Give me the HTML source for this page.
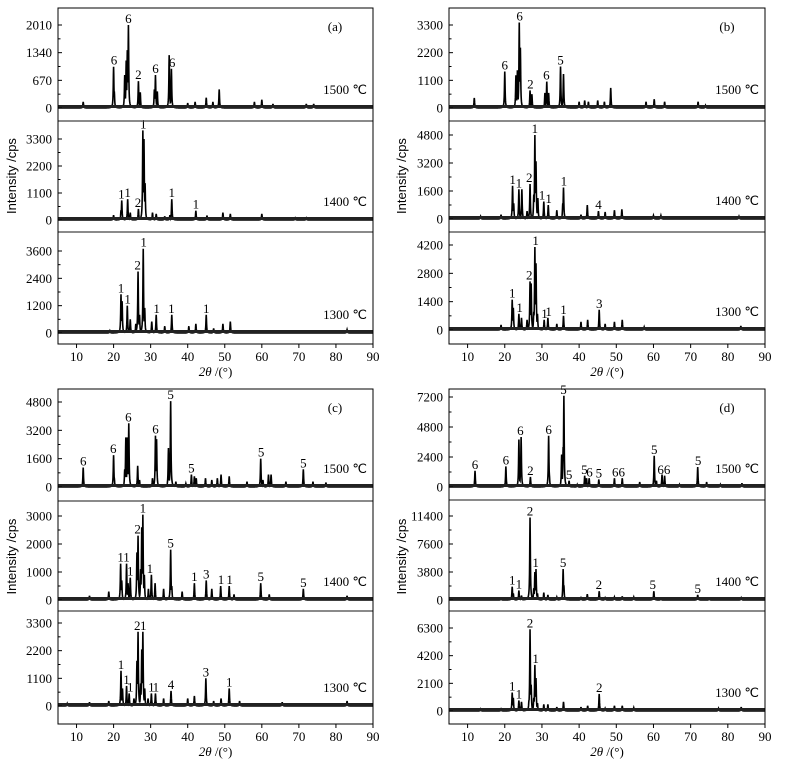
<!DOCTYPE html>
<html><head><meta charset="utf-8">
<style>
html,body{margin:0;padding:0;background:#fff;}
svg{display:block;}
text{font-family:"Liberation Serif",serif;fill:#000;}
.sans{font-family:"Liberation Sans",sans-serif;}
</style></head>
<body>
<svg id="fig" width="791" height="761" viewBox="0 0 791 761" xmlns="http://www.w3.org/2000/svg"></svg>
<script>
// ---------- data (2θ, cps) ----------
const xTicks=[10,20,30,40,50,60,70,80,90];
const tempLabels=["1500 ℃","1400 ℃","1300 ℃"];
const panelLetters=["(a)","(b)","(c)","(d)"];
const yTicksA=[[0,670,1340,2010],[0,1100,2200,3300],[0,1200,2400,3600]];
const yTicksB=[[0,1100,2200,3300],[0,1600,3200,4800],[0,1400,2800,4200]];
const yTicksC=[[0,1600,3200,4800],[0,1000,2000,3000],[0,1100,2200,3300]];
const yTicksD=[[0,2400,4800,7200],[0,3800,7600,11400],[0,2100,4200,6300]];
const peaksA1500=[[11.8,150],[20,1000],[20.2,400],[23,800],[23.4,1150],[23.7,1400],[24,2010],[26.7,650],[27.2,380],[31,450],[31.3,800],[31.8,400],[35,1280],[35.6,950],[40,120],[42,150],[45,250],[46.8,150],[48.5,450],[58,150],[60,200],[63,100],[72,100],[74,100]];
const peaksA1400=[[20,200],[22,400],[22.2,800],[23.8,850],[24.5,300],[26.7,450],[27.9,3650],[28.2,3300],[28.5,1500],[30.5,300],[31.5,250],[33.8,150],[35.2,200],[35.7,850],[42.2,380],[45.2,180],[49.5,300],[51.5,250],[60,250],[69,80],[72,80]];
const peaksA1300=[[19,100],[22,1700],[22.3,1400],[23.7,1200],[24.5,600],[26,400],[26.6,2700],[27,800],[28,3700],[28.4,1100],[30.3,500],[31.5,800],[33.8,300],[35.7,800],[40.3,300],[42.2,400],[45,800],[47,200],[49.5,400],[51.5,500],[83,150]];
const peaksB1500=[[11.8,400],[20,1450],[23,1300],[23.4,1500],[23.9,3400],[24.2,2400],[26.8,700],[27.3,550],[30.8,600],[31.3,1050],[31.8,600],[35,1650],[35.8,1350],[40,250],[41.5,300],[42.5,250],[45,300],[46.8,250],[48.5,800],[58,250],[60.2,350],[63,250],[72,250],[74,100]];
const peaksB1400=[[13.5,150],[19,250],[22.1,1900],[22.4,900],[23.8,1700],[24.6,1700],[26,450],[26.8,2000],[27.8,1400],[28.1,4800],[28.4,3300],[28.9,1200],[30.5,1000],[31.7,800],[34,500],[35.6,900],[35.8,1800],[40.5,250],[42.2,800],[45.2,450],[47,400],[49.5,500],[51.5,550],[60,200],[62,200],[83,150]];
const peaksB1300=[[19,250],[22,1500],[22.3,1100],[23.8,800],[24.5,600],[26,500],[26.8,2400],[27.1,2300],[27.8,900],[28.1,4100],[28.4,3300],[28.8,800],[30.6,500],[31.6,600],[34,300],[35.8,700],[40.5,400],[42.3,500],[45.4,1000],[47,300],[49.5,400],[51.6,500],[57.5,150],[83.5,200]];
const peaksC1500=[[11.8,1100],[20,1800],[20.2,500],[23,1000],[23.3,2800],[23.7,2800],[24.1,3600],[26.5,1200],[27,400],[30.5,500],[31.3,2900],[31.6,2700],[34.8,2200],[35.4,4850],[36.8,300],[39.5,200],[41,700],[41.8,600],[42.3,500],[44.8,500],[46.5,400],[48,500],[49,700],[51.2,600],[56,300],[59.7,1600],[60.3,400],[61.8,700],[62.5,700],[66.5,300],[71.2,1000],[73.8,300],[77.3,250]];
const peaksC1400=[[13.5,150],[18.7,300],[21.9,1300],[22.2,700],[23.5,1300],[23.9,600],[24.5,800],[26.3,1700],[26.6,2300],[27.3,1100],[27.6,2600],[27.9,3050],[28.3,900],[29.4,400],[30.2,900],[31.2,600],[33.5,400],[35.4,1800],[35.7,500],[38.5,300],[41.8,600],[45,700],[46.5,400],[48.9,500],[51.2,500],[52.5,200],[59.7,600],[62,200],[71.2,400],[83,150]];
const peaksC1300=[[7.5,100],[13.5,150],[18.7,200],[22,1400],[22.4,700],[23.5,800],[24.2,500],[25.5,300],[26.3,1800],[26.6,2950],[27.3,900],[27.6,2250],[27.9,2950],[28.4,700],[29.3,300],[30.2,500],[31.3,500],[33.5,300],[35.5,600],[40,300],[41.8,400],[44.9,1100],[47,200],[49,300],[51.2,700],[54,200],[65.5,150],[83,200]];
const peaksD1500=[[12,1300],[20.3,1650],[23.8,3800],[24.2,1000],[24.4,4000],[26.9,800],[31.8,4100],[32,1000],[35.3,2600],[35.7,3200],[35.9,7300],[37.3,500],[39.5,200],[41.5,900],[42,700],[42.7,700],[45.3,600],[49.5,700],[51.6,700],[56.3,400],[60.2,2500],[60.8,500],[62.3,1000],[63,900],[67,200],[71.9,1600],[74.3,400],[78,200],[83.8,300]];
const peaksD1400=[[19,200],[22,1800],[22.3,900],[23.8,1300],[24.5,600],[26.6,1000],[26.8,11200],[27.8,1600],[28.1,3800],[28.4,4200],[28.8,900],[30.5,1000],[31.6,700],[34,400],[35.7,4200],[35.9,2000],[40.5,300],[42.2,800],[45.4,1200],[47,300],[49.5,400],[51.6,500],[54.7,400],[60.1,1200],[62,200],[71.9,700],[75,200],[83.6,300]];
const peaksD1300=[[13.5,150],[19,150],[22,1400],[22.3,1000],[23.8,800],[24.5,700],[26.5,800],[26.8,6200],[27.1,2000],[27.8,1000],[28.1,3500],[28.4,2500],[28.8,600],[30.5,500],[31.6,500],[34,300],[35.8,700],[40.5,300],[42.3,400],[45.4,1300],[47,200],[49.5,400],[51.6,400],[54.7,250],[77.5,200],[83.6,300]];
// phase labels [2θ, text, cps height of label base]
const labA1500=[[20.1,"6",1000],[24,"6",2010],[26.7,"2",650],[31.3,"6",800],[35.8,"6",950]];
const labA1400=[[22.1,"1",800],[23.8,"1",850],[26.6,"2",450],[28,"1",3650],[35.7,"1",850],[42.2,"1",380]];
const labA1300=[[22,"1",1700],[23.8,"1",1200],[26.5,"2",2700],[28.1,"1",3700],[31.6,"1",800],[35.6,"1",800],[45,"1",800]];
const labB1500=[[20,"6",1450],[24,"6",3400],[26.9,"2",700],[31.2,"6",1050],[35,"5",1650]];
const labB1400=[[22.1,"1",1900],[23.8,"1",1700],[26.6,"2",2000],[28.1,"1",4800],[30,"1",1000],[31.8,"1",800],[35.9,"1",1800],[45.2,"4",450]];
const labB1300=[[22,"1",1500],[24,"1",800],[26.6,"2",2400],[28.3,"1",4100],[30.7,"1",500],[31.8,"1",600],[35.8,"1",700],[45.4,"3",1000]];
const labC1500=[[11.8,"6",1100],[19.9,"6",1800],[24,"6",3600],[31.3,"6",2900],[35.4,"5",4850],[41,"5",700],[59.8,"5",1600],[71.2,"5",1000]];
const labC1400=[[21.9,"1",1300],[23.5,"1",1300],[24.5,"1",800],[26.5,"2",2300],[27.9,"1",3050],[29.8,"1",900],[35.4,"5",1800],[41.8,"1",600],[45,"3",700],[49,"1",500],[51.3,"1",500],[59.7,"5",600],[71.2,"5",400]];
const labC1300=[[22,"1",1400],[23.5,"1",800],[24.5,"1",500],[26.4,"2",2950],[28,"1",2950],[30.2,"1",500],[31.4,"1",500],[35.5,"4",600],[44.9,"3",1100],[51.2,"1",700]];
const labD1500=[[12,"6",1300],[20.3,"6",1650],[24.2,"6",4000],[26.9,"2",800],[31.8,"6",4100],[35.8,"5",7300],[37.3,"5",500],[41.4,"5",900],[42.8,"6",700],[45.3,"5",600],[50.6,"66",700],[60.2,"5",2500],[62.8,"66",900],[72,"5",1600]];
const labD1400=[[22,"1",1800],[23.8,"1",1300],[26.8,"2",11200],[28.3,"1",4200],[35.7,"5",4200],[45.3,"2",1200],[59.8,"5",1200],[71.9,"5",700]];
const labD1300=[[22,"1",1400],[23.8,"1",800],[26.8,"2",6200],[28.3,"1",3500],[45.4,"2",1300]];

// ---------- layout ----------
const panels=[
 {x0:58,x1:373,tops:[8,121,232],bots:[121,232,344],zeros:[108,220,333],tpx:[25,139,251],ticks:yTicksA,peaks:[peaksA1500,peaksA1400,peaksA1300],labs:[labA1500,labA1400,labA1300],ylab:12},
 {x0:449,x1:765,tops:[8,121,232],bots:[121,232,344],zeros:[108,219,330],tpx:[25,135,245],ticks:yTicksB,peaks:[peaksB1500,peaksB1400,peaksB1300],labs:[labB1500,labB1400,labB1300],ylab:402},
 {x0:58,x1:373,tops:[389,501,611],bots:[501,611,724],zeros:[487,600,706],tpx:[402,516,623],ticks:yTicksC,peaks:[peaksC1500,peaksC1400,peaksC1300],labs:[labC1500,labC1400,labC1300],ylab:12},
 {x0:449,x1:765,tops:[389,500,611],bots:[500,611,724],zeros:[487,600,711],tpx:[397,516,628],ticks:yTicksD,peaks:[peaksD1500,peaksD1400,peaksD1300],labs:[labD1500,labD1400,labD1300],ylab:402}
];
const NS="http://www.w3.org/2000/svg";
const svg=document.getElementById('fig');
function mk(tag,attrs,parent){const e=document.createElementNS(NS,tag);for(const k in attrs)e.setAttribute(k,attrs[k]);(parent||svg).appendChild(e);return e;}

panels.forEach((p,pi)=>{
  const g=mk('g',{});
  
  
  const xs=v=>p.x0+(v-5)/(85)*(p.x1-p.x0);
  for(let s=0;s<3;s++){
    const sg=mk('g',{},g);
    
    
    const ticks=p.ticks[s];
    const k=(p.zeros[s]-p.tpx[s])/ticks[3];
    const ys=v=>p.zeros[s]-v*k;
    const clip=mk('clipPath',{id:'c'+pi+s},sg);
    mk('rect',{x:p.x0,y:p.tops[s],width:p.x1-p.x0,height:p.bots[s]-p.tops[s]},clip);
    const pk=p.peaks[s];
    let d='';
    for(let t=5;t<=90.001;t+=0.05){
      let v=0;
      for(const q of pk){const dx=(t-q[0])/0.1;const w=q[1]/(1+dx*dx);if(w>v)v=w;}
      d+=(d?'L':'M')+xs(t).toFixed(2)+','+ys(v).toFixed(2);
    }
    const ln=mk('path',{d:d,fill:'none',stroke:'#000','stroke-width':1.6,'clip-path':'url(#c'+pi+s+')'},sg);
    
    
    const bl=mk('rect',{x:p.x0,y:ys(0)-3,width:p.x1-p.x0,height:3,fill:'#222'},sg);
    
    
    ticks.forEach((tv,i)=>{
      const y=ys(tv);
      mk('line',{x1:p.x0,x2:p.x0+4,y1:y,y2:y,stroke:'#000','stroke-width':1},sg);
      if(i<3){const ym=ys(tv+(ticks[1]-ticks[0])/2);mk('line',{x1:p.x0,x2:p.x0+2.5,y1:ym,y2:ym,stroke:'#000','stroke-width':1},sg);}
      const tl=mk('text',{x:p.x0-6,y:y+4.5,'font-size':13,'text-anchor':'end'},sg);
      tl.textContent=tv;
      
      
    });
    p.labs[s].forEach(l=>{
      const t=mk('text',{x:xs(l[0]),y:ys(l[2])-2,'font-size':13,'text-anchor':'middle'},sg);
      t.textContent=l[1];
      
      
    });
    const tt=mk('text',{x:p.x1-6,y:p.zeros[s]-14,'font-size':13,'text-anchor':'end'},sg);
    tt.textContent=tempLabels[s];
    
    
    if(s>0)mk('line',{x1:p.x0,x2:p.x1,y1:p.tops[s],y2:p.tops[s],stroke:'#444','stroke-width':1.3},sg);
  }
  const fr=mk('rect',{x:p.x0,y:p.tops[0],width:p.x1-p.x0,height:p.bots[2]-p.tops[0],fill:'none',stroke:'#000','stroke-width':1},g);
  
  
  const yb=p.bots[2];
  xTicks.forEach(v=>{
    mk('line',{x1:xs(v),x2:xs(v),y1:yb,y2:yb+4,stroke:'#000','stroke-width':1},g);
    const t=mk('text',{x:xs(v),y:yb+17,'font-size':13,'text-anchor':'middle'},g);
    t.textContent=v;
    
    
  });
  const xt=mk('text',{x:(p.x0+p.x1)/2,y:yb+32,'font-size':13,'text-anchor':'middle'},g);
  xt.innerHTML='<tspan font-style="italic">2θ</tspan> /(°)';
  
  
  const cy=(p.tops[0]+p.bots[2])/2;
  const yt=mk('text',{x:p.ylab,y:cy,'font-size':13,'text-anchor':'middle',transform:'rotate(-90 '+p.ylab+' '+cy+')',class:'sans'},g);
  yt.setAttribute('dy','4');
  yt.textContent='Intensity /cps';
  
  
  const pl=mk('text',{x:p.x1-38,y:p.tops[0]+23,'font-size':13,'text-anchor':'middle'},g);
  pl.textContent=panelLetters[pi];
  
  
});
</script>
</body></html>
